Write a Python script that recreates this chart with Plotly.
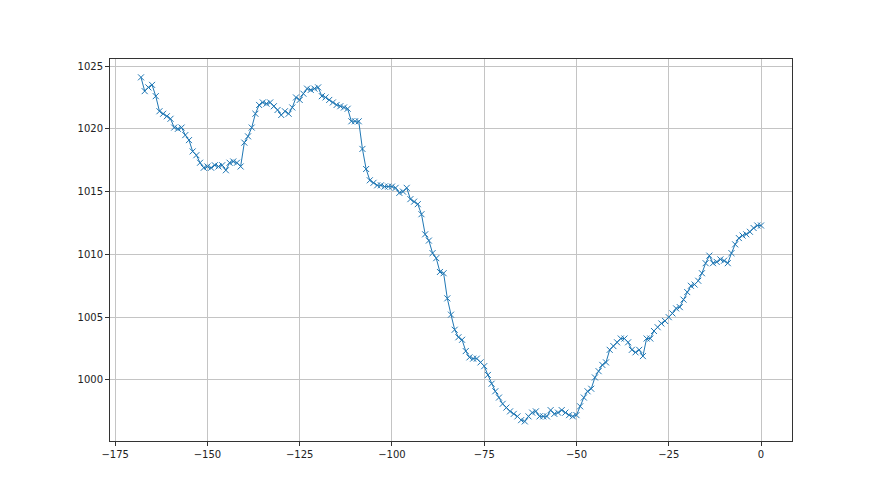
import plotly.graph_objects as go

hours = list(range(-168, 1))
pressure = [
    1024.1, 1023.0, 1023.3, 1023.5, 1022.6, 1021.4, 1021.2, 1021.0, 1020.8, 1020.1,
    1020.0, 1020.1, 1019.5, 1019.1, 1018.2, 1017.9, 1017.3, 1016.9, 1017.0, 1016.9,
    1017.1, 1017.0, 1017.1, 1016.7, 1017.3, 1017.4, 1017.3, 1017.0, 1018.9, 1019.4,
    1020.1, 1021.2, 1021.9, 1022.1, 1022.0, 1022.1, 1021.8, 1021.5, 1021.1, 1021.4,
    1021.2, 1021.7, 1022.5, 1022.3, 1022.8, 1023.2, 1023.1, 1023.2, 1023.3, 1022.6,
    1022.5, 1022.3, 1022.1, 1021.9, 1021.8, 1021.7, 1021.6, 1020.6, 1020.6, 1020.6,
    1018.4, 1016.8, 1015.9, 1015.7, 1015.5, 1015.5, 1015.4, 1015.4, 1015.4, 1015.3,
    1014.9, 1015.0, 1015.3, 1014.4, 1014.2, 1014.0, 1013.2, 1011.6, 1011.1, 1010.1,
    1009.7, 1008.6, 1008.5, 1006.5, 1005.2, 1004.0, 1003.4, 1003.2, 1002.3, 1001.8,
    1001.7, 1001.7, 1001.4, 1001.1, 1000.4, 999.7, 999.1, 998.6, 998.1, 997.8,
    997.5, 997.3, 997.1, 996.8, 996.7, 997.1, 997.4, 997.5, 997.1, 997.1,
    997.1, 997.6, 997.3, 997.4, 997.6, 997.4, 997.2, 997.1, 997.2, 997.9,
    998.6, 999.1, 999.3, 1000.2, 1000.7, 1001.2, 1001.4, 1002.4, 1002.7, 1003.0,
    1003.3, 1003.3, 1003.0, 1002.4, 1002.2, 1002.4, 1001.9, 1003.3, 1003.3, 1003.9,
    1004.2, 1004.5, 1004.7, 1005.0, 1005.3, 1005.7, 1005.8, 1006.4, 1007.0, 1007.5,
    1007.6, 1007.9, 1008.5, 1009.3, 1009.9, 1009.3, 1009.4, 1009.6, 1009.5, 1009.3,
    1010.1, 1010.8, 1011.3, 1011.5, 1011.6, 1011.8, 1012.1, 1012.3, 1012.3,
]
x_ticks = [-175, -150, -125, -100, -75, -50, -25, 0]
y_ticks = [1000, 1005, 1010, 1015, 1020, 1025]

fig = go.Figure()
fig.add_trace(go.Scatter(
    x=hours, y=pressure, mode="lines+markers",
    line=dict(color="#1f77b4", width=1),
    marker=dict(symbol="x-thin", size=6, color="#1f77b4",
                line=dict(color="#1f77b4", width=1)),
    showlegend=False,
))

axis_common = dict(
    showline=True, mirror=True, linecolor="#333333", linewidth=1,
    showgrid=True, gridcolor="#c4c4c4", gridwidth=0.8,
    ticks="outside", ticklen=4, tickcolor="#333333", tickwidth=1,
    zeroline=False,
    tickfont=dict(family="DejaVu Sans", size=10, color="#222222"),
)
fig.update_xaxes(range=[-176.4, 8.4], tickvals=x_ticks, **axis_common)
fig.update_yaxes(range=[995.14, 1025.56], tickvals=y_ticks, **axis_common)

fig.update_layout(
    width=872, height=487,
    margin=dict(l=102, r=88, t=51, b=54),
    paper_bgcolor="white", plot_bgcolor="white",
)
fig.write_html("out.html")
